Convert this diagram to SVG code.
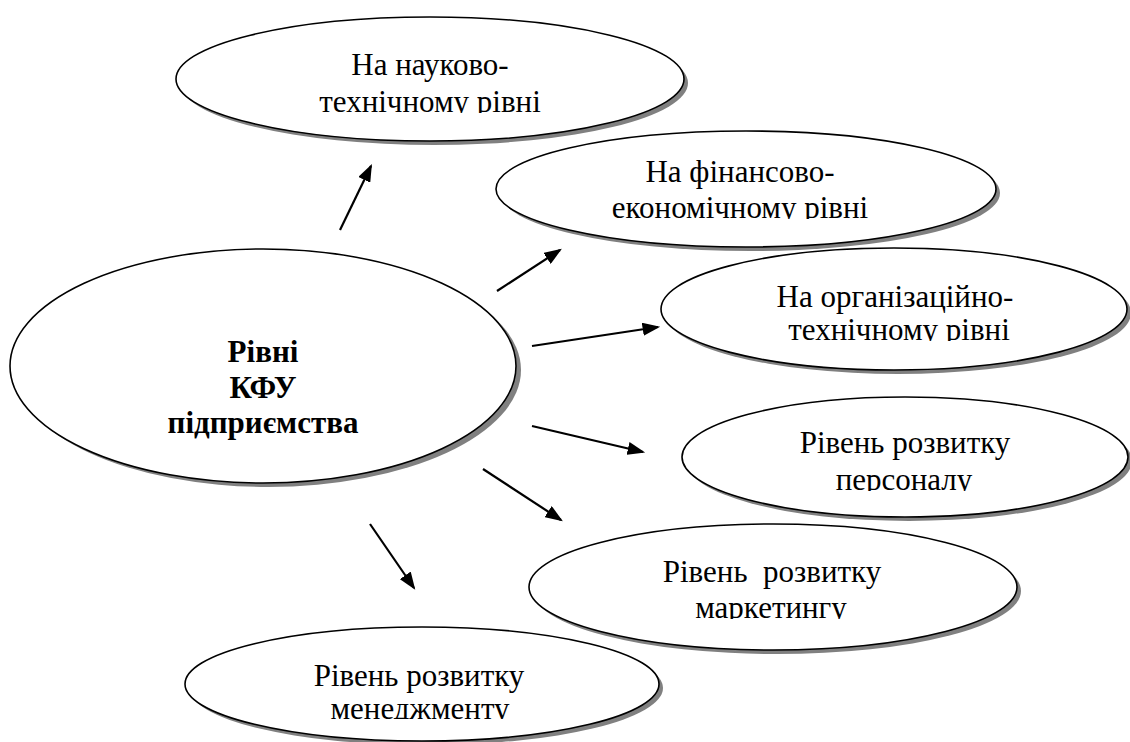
<svg xmlns="http://www.w3.org/2000/svg" width="1130" height="742" viewBox="0 0 1130 742">
<style>
.sh{fill:#808080;stroke:none}
.el{fill:#ffffff;stroke:#000000;stroke-width:1.6}
.t{font-family:'Liberation Serif','Times New Roman',Tinos,'DejaVu Serif',serif;font-size:31px;fill:#000000;text-anchor:middle}
.b{font-weight:bold}
.c{stroke:#000000;stroke-width:2.2;fill:none;marker-end:url(#ah)}
</style>
<defs>
<marker id="ah" markerWidth="8" markerHeight="6" refX="7" refY="3" orient="auto" markerUnits="strokeWidth">
<path d="M0,0 L8,3 L0,6 z" fill="#000000"/>
</marker>
<clipPath id="c1" clipPathUnits="userSpaceOnUse"><rect x="0" y="0" width="1130" height="113"/></clipPath>
<clipPath id="c2" clipPathUnits="userSpaceOnUse"><rect x="0" y="0" width="1130" height="219"/></clipPath>
<clipPath id="c3" clipPathUnits="userSpaceOnUse"><rect x="0" y="0" width="1130" height="341"/></clipPath>
<clipPath id="c4" clipPathUnits="userSpaceOnUse"><rect x="0" y="0" width="1130" height="491"/></clipPath>
<clipPath id="c5" clipPathUnits="userSpaceOnUse"><rect x="0" y="0" width="1130" height="619"/></clipPath>
<clipPath id="c6" clipPathUnits="userSpaceOnUse"><rect x="0" y="0" width="1130" height="719"/></clipPath>
</defs>
<rect width="1130" height="742" fill="#ffffff"/>

<g id="node-scientific">
<ellipse class="sh" cx="434" cy="83" rx="254" ry="62"/>
<ellipse class="el" cx="430" cy="79" rx="254" ry="62"/>
<g clip-path="url(#c1)">
<text class="t" x="430" y="75">На науково-</text>
<text class="t" x="430" y="112">технічному рівні</text>
</g>
</g>

<g id="node-financial">
<ellipse class="sh" cx="750" cy="193" rx="250" ry="58"/>
<ellipse class="el" cx="746" cy="189" rx="250" ry="58"/>
<g clip-path="url(#c2)">
<text class="t" x="740" y="182">На фінансово-</text>
<text class="t" x="740" y="218">економічному рівні</text>
</g>
</g>

<g id="node-organizational">
<ellipse class="sh" cx="898" cy="313" rx="233" ry="61"/>
<ellipse class="el" cx="894" cy="309" rx="233" ry="61"/>
<g clip-path="url(#c3)">
<text class="t" x="895" y="307">На організаційно-</text>
<text class="t" x="899" y="340">технічному рівні</text>
</g>
</g>

<g id="node-personnel">
<ellipse class="sh" cx="909" cy="461" rx="223" ry="60"/>
<ellipse class="el" cx="905" cy="457" rx="223" ry="60"/>
<g clip-path="url(#c4)">
<text class="t" x="905" y="453">Рівень розвитку</text>
<text class="t" x="904" y="490">персоналу</text>
</g>
</g>

<g id="node-marketing">
<ellipse class="sh" cx="777" cy="591" rx="244" ry="63"/>
<ellipse class="el" cx="773" cy="587" rx="244" ry="63"/>
<g clip-path="url(#c5)">
<text class="t" x="772" y="582" xml:space="preserve">Рівень  розвитку</text>
<text class="t" x="771" y="618">маркетингу</text>
</g>
</g>

<g id="node-management">
<ellipse class="sh" cx="426" cy="688" rx="237" ry="57"/>
<ellipse class="el" cx="422" cy="684" rx="237" ry="57"/>
<g clip-path="url(#c6)">
<text class="t" x="419" y="686">Рівень розвитку</text>
<text class="t" x="420" y="719">менеджменту</text>
</g>
</g>

<g id="node-center">
<ellipse class="sh" cx="268" cy="370" rx="253" ry="117"/>
<ellipse class="el" cx="263" cy="366" rx="253" ry="117"/>
<text class="t b" x="263" y="362">Рівні</text>
<text class="t b" x="263" y="398">КФУ</text>
<text class="t b" x="263" y="433">підприємства</text>
</g>

<g id="connectors">
<line class="c" x1="340" y1="230" x2="371" y2="166"/>
<line class="c" x1="497" y1="291" x2="560" y2="250"/>
<line class="c" x1="532" y1="346" x2="658" y2="327"/>
<line class="c" x1="532" y1="426" x2="643" y2="452"/>
<line class="c" x1="483" y1="469" x2="561" y2="520"/>
<line class="c" x1="370" y1="524" x2="414" y2="588"/>
</g>
</svg>
